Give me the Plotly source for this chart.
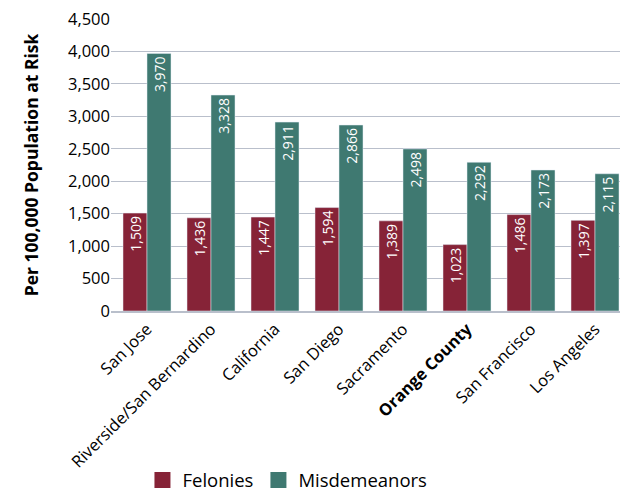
import plotly.graph_objects as go

# data
cities = ['San Jose', 'Riverside/San Bernardino', 'California', 'San Diego',
          'Sacramento', '<b>Orange County</b>', 'San Francisco', 'Los Angeles']
felonies = [1509, 1436, 1447, 1594, 1389, 1023, 1486, 1397]
misdemeanors = [3970, 3328, 2911, 2866, 2498, 2292, 2173, 2115]

fel_color = '#862337'
mis_color = '#3F7971'
font_fam = 'Open Sans, Noto Sans, sans-serif'

fig = go.Figure()
fig.add_trace(go.Bar(x=cities, y=felonies, name='Felonies', marker_color=fel_color,
                     text=[f'{v:,}' for v in felonies], textposition='inside',
                     textangle=-90, insidetextanchor='end',
                     textfont=dict(color='white', size=14, family=font_fam),
                     showlegend=False))
fig.add_trace(go.Bar(x=cities, y=misdemeanors, name='Misdemeanors', marker_color=mis_color,
                     text=[f'{v:,}' for v in misdemeanors], textposition='inside',
                     textangle=-90, insidetextanchor='end',
                     textfont=dict(color='white', size=14, family=font_fam),
                     showlegend=False))

# legend-only entries with bigger swatches
for nm, col in [('Felonies', fel_color), ('Misdemeanors', mis_color)]:
    fig.add_trace(go.Scatter(x=[None], y=[None], mode='markers', name=nm,
                             marker=dict(symbol='square', size=22, color=col)))

fig.update_layout(
    width=628, height=494,
    margin=dict(l=103, r=9, t=11, b=191),
    plot_bgcolor='white', paper_bgcolor='white',
    barmode='group', bargap=0.25, bargroupgap=0,
    font=dict(family=font_fam, size=16, color='black'),
    uniformtext=dict(minsize=14, mode='show'),
    legend=dict(orientation='h', xref='container', yref='container',
                x=0.445, xanchor='center', y=0.005, yanchor='bottom',
                font=dict(size=18.5), tracegroupgap=0),
)
fig.update_xaxes(range=[-0.5625, 7.5], tickangle=-45, showgrid=False, showline=True,
                 linecolor='#B9BFCB', linewidth=2, tickfont=dict(size=16.5), automargin=False)
fig.update_yaxes(range=[0, 4500], dtick=500, tickformat=',', gridcolor='#B9BFCB',
                 gridwidth=1, zeroline=False, tickfont=dict(size=16.5), automargin=False,
                 ticklabeloverflow='allow',
                 title=dict(text='<b>Per 100,000 Population at Risk</b>', font=dict(size=17.5),
                            standoff=24))

fig.write_html('out.html')
